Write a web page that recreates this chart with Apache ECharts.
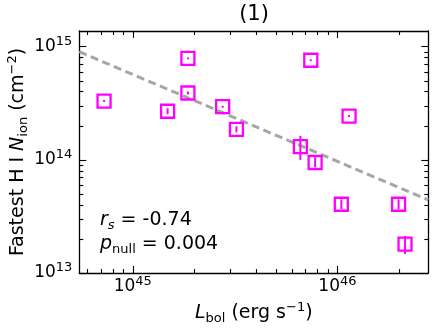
<!DOCTYPE html>
<html>
<head>
<meta charset="utf-8">
<script src="https://cdn.jsdelivr.net/npm/echarts@6/dist/echarts.min.js"></script>
<style>
html,body{margin:0;padding:0;background:#fff}
#main{width:433px;height:330px}
</style>
</head>
<body>
<div id="main"></div>
<script>
// L_bol (erg s^-1) of each source
var lbol = [7.24e44, 1.48e45, 1.86e45, 1.86e45, 2.75e45, 3.21e45, 6.59e45, 7.41e45, 7.78e45, 1.14e46, 1.045e46, 1.99e46, 2.14e46];
// fastest H I N_ion (cm^-2) and its error range
var nion   = [3.31e14, 2.69e14, 7.9e14, 3.9e14, 2.95e14, 1.86e14, 1.31e14, 7.59e14, 9.48e13, 2.44e14, 4.05e13, 4.05e13, 1.8e13];
var nionLo = [3.24e14, 2.53e14, 7.75e14, 3.78e14, 2.89e14, 1.75e14, 1.0e14, 7.44e14, 8.58e13, 2.39e14, 3.66e13, 3.66e13, 1.47e13];
var nionHi = [3.38e14, 2.86e14, 8.05e14, 4.02e14, 3.01e14, 1.98e14, 1.63e14, 7.74e14, 1.05e14, 2.49e14, 4.47e13, 4.47e13, 2.12e13];
// dashed fit line, read at the two plot edges
var fitX = [5.48e44, 2.78e46];
var fitY = [9.03e14, 4.42e13];
// axis ranges and tick exponents
var xRange = [5.48e44, 2.78e46];
var yRange = [1e13, 1.377e15];
var xMajor = [45, 46];
var yMajor = [13, 14, 15];
var rsText = '-0.74';
var pText = '0.004';

function lg(v) { return Math.log10(v); }

var minorX = [], minorY = [];
[44, 45, 46].forEach(function (n) { for (var k = 2; k < 10; k++) minorX.push(n + lg(k)); });
[13, 14, 15].forEach(function (n) { for (var k = 2; k < 10; k++) minorY.push(n + lg(k)); });

var FONT = 'DejaVu Sans';
var lineCol = '#000';

var tickRich = {
  b: { fontSize: 17, lineHeight: 24, fontFamily: FONT, color: '#000' },
  e: { fontSize: 13, lineHeight: 13, verticalAlign: 'top', fontFamily: FONT, color: '#000' }
};
var nameRich = {
  n: { fontSize: 19, lineHeight: 24, fontFamily: FONT, color: '#000' },
  i: { fontSize: 19, lineHeight: 24, fontStyle: 'italic', fontFamily: FONT, color: '#000' },
  sub: { fontSize: 13, lineHeight: 13, verticalAlign: 'bottom', fontFamily: FONT, color: '#000' },
  sup: { fontSize: 13, lineHeight: 13, verticalAlign: 'top', fontFamily: FONT, color: '#000' }
};

function expLabel(v) { return '{b|10}{e|' + Math.round(v) + '}'; }

function axis(pos, range, ticks, len, main) {
  return {
    type: 'value',
    position: pos,
    min: lg(range[0]),
    max: lg(range[1]),
    splitLine: { show: false },
    axisLine: { show: !!main, onZero: false, lineStyle: { color: lineCol, width: 1.3 } },
    axisTick: { show: true, inside: true, length: len, customValues: ticks, lineStyle: { color: lineCol, width: 1.1 } },
    axisLabel: { show: false }
  };
}

var xMain = axis('bottom', xRange, xMajor, 7, true);
xMain.axisLabel = { show: true, customValues: xMajor, margin: 2, formatter: expLabel, rich: tickRich };
xMain.name = '{i|L}{sub|bol}{n| (erg s}{sup|\u22121}{n|)}';
xMain.nameLocation = 'middle';
xMain.nameGap = 28;
xMain.nameTextStyle = { rich: nameRich };

var yMain = axis('left', yRange, yMajor, 7, true);
yMain.axisLabel = { show: true, customValues: yMajor, margin: 7, formatter: expLabel, rich: tickRich };
yMain.name = '{n|Fastest H I }{i|N}{sub|ion}{n| (cm}{sup|\u22122}{n|)}';
yMain.nameLocation = 'middle';
yMain.nameGap = 49;
yMain.nameMoveOverlap = false;
yMain.nameTextStyle = { rich: nameRich };

var xAxes = [xMain, axis('bottom', xRange, minorX, 4), axis('top', xRange, xMajor, 7, true), axis('top', xRange, minorX, 4)];
var yAxes = [yMain, axis('left', yRange, minorY, 4), axis('right', yRange, yMajor, 7, true), axis('right', yRange, minorY, 4)];

var pts = lbol.map(function (x, i) { return [lg(x), lg(nion[i])]; });
var bars = lbol.map(function (x, i) { return [lg(x), lg(nionLo[i]), lg(nionHi[i])]; });

var myChart = echarts.init(document.getElementById('main'), null, { renderer: 'canvas' });
var option = {
  animation: false,
  backgroundColor: '#fff',
  grid: { left: 79.3, right: 4.7, top: 31, bottom: 57, containLabel: false, outerBoundsMode: 'none' },
  xAxis: xAxes,
  yAxis: yAxes,
  graphic: [
    { type: 'text', x: 254, y: 15, style: { text: '(1)', fontSize: 21, fontFamily: FONT, fill: '#000', align: 'center', verticalAlign: 'middle' } },
    { type: 'text', x: 100, y: 220, style: {
        text: '{i|r}{si|s}{n| = ' + rsText + '}', verticalAlign: 'middle',
        rich: {
          n: { fontSize: 19, lineHeight: 24, fontFamily: FONT, fill: '#000' },
          i: { fontSize: 19, lineHeight: 24, fontStyle: 'italic', fontFamily: FONT, fill: '#000' },
          si: { fontSize: 13, lineHeight: 13, fontStyle: 'italic', verticalAlign: 'bottom', fontFamily: FONT, fill: '#000' }
        } } },
    { type: 'text', x: 100, y: 244, style: {
        text: '{i|p}{s|null}{n| = ' + pText + '}', verticalAlign: 'middle',
        rich: {
          n: { fontSize: 19, lineHeight: 24, fontFamily: FONT, fill: '#000' },
          i: { fontSize: 19, lineHeight: 24, fontStyle: 'italic', fontFamily: FONT, fill: '#000' },
          s: { fontSize: 13, lineHeight: 13, verticalAlign: 'bottom', fontFamily: FONT, fill: '#000' }
        } } }
  ],
  series: [
    {
      type: 'line',
      data: [[lg(fitX[0]), lg(fitY[0])], [lg(fitX[1]), lg(fitY[1])]],
      symbol: 'none',
      lineStyle: { color: '#a6a6a6', width: 3, type: [8, 4.5] },
      z: 1
    },
    {
      type: 'custom',
      data: bars,
      renderItem: function (params, api) {
        var p1 = api.coord([api.value(0), api.value(1)]);
        var p2 = api.coord([api.value(0), api.value(2)]);
        return { type: 'line', shape: { x1: p1[0], y1: p1[1], x2: p2[0], y2: p2[1] }, style: { stroke: '#ff00ff', lineWidth: 2 } };
      },
      z: 3
    },
    {
      type: 'scatter',
      data: pts,
      symbol: 'rect',
      symbolSize: 13,
      itemStyle: { color: 'rgba(0,0,0,0)', borderColor: '#ff00ff', borderWidth: 2.3, opacity: 1 },
      z: 4
    }
  ]
};
myChart.setOption(option);
</script>
</body>
</html>
